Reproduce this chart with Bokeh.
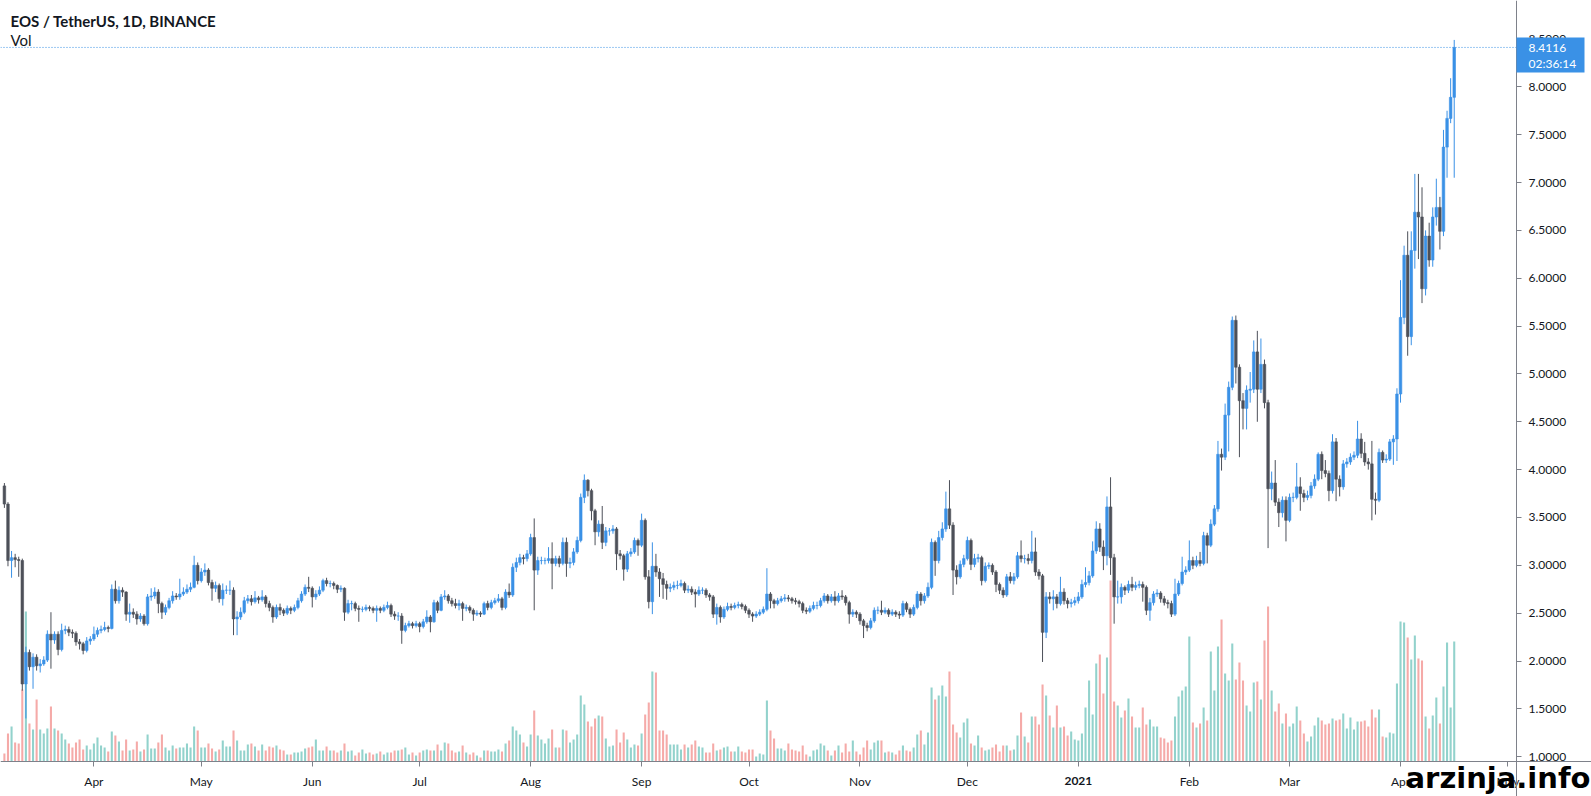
import pandas as pd
from bokeh.plotting import figure
from bokeh.models import (Range1d, FixedTicker, NumeralTickFormatter, CustomJSTickFormatter,
                          Label, BoxAnnotation, ColumnDataSource, LinearAxis, DatetimeAxis)
from bokeh.embed import file_html
from bokeh.resources import INLINE

# ---------------- data ----------------
start_date = "2020-03-07"
first_open = 3.83
last_price = 8.4116
countdown = "02:36:14"
title_text = "EOS / TetherUS, 1D, BINANCE"
volume_title = "Vol"
watermark = "arzinja.info"

close = [
    3.64, 3.05, 3.08, 3.06, 3.05, 1.76, 2.09, 1.94, 2.04, 1.95,
    1.97, 2.01, 2.28, 2.22, 2.28, 2.12, 2.32, 2.33, 2.30, 2.29,
    2.20, 2.18, 2.11, 2.21, 2.23, 2.28, 2.32, 2.33, 2.35, 2.34,
    2.75, 2.63, 2.74, 2.72, 2.49, 2.51, 2.49, 2.44, 2.47, 2.39,
    2.67, 2.68, 2.72, 2.60, 2.51, 2.56, 2.63, 2.68, 2.67, 2.70,
    2.72, 2.75, 2.77, 3.00, 2.84, 2.93, 2.95, 2.82, 2.76, 2.79,
    2.65, 2.74, 2.74, 2.74, 2.44, 2.46, 2.51, 2.63, 2.65, 2.62,
    2.66, 2.64, 2.67, 2.60, 2.56, 2.46, 2.56, 2.53, 2.50, 2.55,
    2.53, 2.56, 2.63, 2.70, 2.77, 2.76, 2.67, 2.70, 2.74, 2.84,
    2.81, 2.81, 2.79, 2.75, 2.76, 2.51, 2.60, 2.60, 2.55, 2.54,
    2.54, 2.56, 2.55, 2.53, 2.55, 2.53, 2.56, 2.58, 2.49, 2.47,
    2.47, 2.32, 2.37, 2.39, 2.37, 2.39, 2.36, 2.41, 2.46, 2.41,
    2.61, 2.53, 2.67, 2.68, 2.63, 2.60, 2.58, 2.60, 2.55, 2.56,
    2.53, 2.49, 2.50, 2.49, 2.60, 2.56, 2.61, 2.63, 2.65, 2.56,
    2.72, 2.69, 2.98, 3.03, 3.08, 3.07, 3.12, 3.29, 2.95, 3.05,
    3.05, 3.05, 3.07, 3.02, 3.07, 3.02, 3.24, 3.02, 3.03, 3.14,
    3.26, 3.71, 3.89, 3.78, 3.57, 3.35, 3.43, 3.24, 3.36, 3.36,
    3.38, 3.12, 3.10, 2.96, 3.12, 3.14, 3.26, 3.21, 3.47, 2.88,
    2.62, 2.99, 2.93, 2.86, 2.80, 2.76, 2.77, 2.79, 2.79, 2.81,
    2.74, 2.75, 2.72, 2.70, 2.74, 2.74, 2.69, 2.67, 2.49, 2.56,
    2.46, 2.54, 2.57, 2.56, 2.58, 2.59, 2.57, 2.53, 2.49, 2.47,
    2.49, 2.51, 2.54, 2.70, 2.63, 2.60, 2.63, 2.65, 2.66, 2.65,
    2.63, 2.62, 2.60, 2.53, 2.52, 2.55, 2.58, 2.58, 2.63, 2.68,
    2.63, 2.67, 2.63, 2.68, 2.67, 2.61, 2.49, 2.51, 2.49, 2.42,
    2.37, 2.35, 2.42, 2.53, 2.53, 2.51, 2.53, 2.49, 2.51, 2.49,
    2.48, 2.60, 2.54, 2.49, 2.56, 2.70, 2.63, 2.68, 2.77, 3.24,
    3.05, 3.29, 3.38, 3.59, 3.42, 2.95, 2.88, 3.01, 3.07, 3.26,
    3.01, 3.07, 3.08, 2.84, 2.99, 3.00, 2.93, 2.80, 2.74, 2.69,
    2.88, 2.84, 2.88, 3.10, 3.07, 3.07, 3.05, 3.14, 2.93, 2.89,
    2.30, 2.67, 2.65, 2.67, 2.60, 2.72, 2.63, 2.60, 2.61, 2.63,
    2.67, 2.80, 2.82, 2.89, 3.15, 3.38, 3.19, 3.10, 3.61, 3.08,
    2.67, 2.67, 2.77, 2.74, 2.80, 2.77, 2.79, 2.80, 2.77, 2.53,
    2.61, 2.70, 2.71, 2.65, 2.61, 2.60, 2.49, 2.70, 2.81, 2.93,
    2.95, 3.05, 3.00, 3.05, 3.02, 3.31, 3.21, 3.43, 3.59, 4.16,
    4.13, 4.57, 4.86, 5.56, 5.07, 4.72, 4.64, 4.83, 4.84, 5.23,
    4.84, 5.10, 4.70, 3.80, 3.86, 3.66, 3.55, 3.68, 3.47, 3.71,
    3.71, 3.82, 3.75, 3.71, 3.73, 3.83, 3.90, 4.16, 3.99, 3.96,
    3.78, 4.29, 3.90, 3.82, 4.06, 4.08, 4.13, 4.15, 4.32, 4.17,
    4.08, 4.06, 3.69, 3.68, 4.18, 4.10, 4.11, 4.29, 4.32, 4.79,
    5.59, 6.24, 5.39, 6.29, 6.69, 6.64, 5.89, 6.44, 6.19, 6.64,
    6.74, 6.49, 7.37, 7.67, 7.89, 8.4116,
]

high = [
    3.86, 3.66, 3.15, 3.12, 3.09, 3.07, 2.15, 2.12, 2.08, 2.07,
    2.02, 2.05, 2.32, 2.51, 2.31, 2.31, 2.39, 2.37, 2.36, 2.33,
    2.31, 2.23, 2.20, 2.25, 2.26, 2.36, 2.35, 2.37, 2.41, 2.37,
    2.80, 2.84, 2.78, 2.77, 2.73, 2.60, 2.55, 2.52, 2.50, 2.49,
    2.70, 2.76, 2.77, 2.75, 2.62, 2.59, 2.66, 2.73, 2.71, 2.86,
    2.77, 2.80, 2.82, 3.10, 3.03, 2.97, 3.02, 2.97, 2.85, 2.83,
    2.81, 2.81, 2.79, 2.84, 2.77, 2.52, 2.56, 2.67, 2.69, 2.69,
    2.73, 2.68, 2.74, 2.69, 2.63, 2.58, 2.59, 2.60, 2.55, 2.58,
    2.57, 2.59, 2.66, 2.73, 2.80, 2.88, 2.78, 2.74, 2.78, 2.86,
    2.87, 2.84, 2.83, 2.80, 2.79, 2.77, 2.64, 2.63, 2.62, 2.58,
    2.57, 2.59, 2.58, 2.57, 2.58, 2.57, 2.59, 2.62, 2.60, 2.52,
    2.51, 2.50, 2.40, 2.42, 2.41, 2.42, 2.41, 2.44, 2.53, 2.48,
    2.64, 2.63, 2.70, 2.74, 2.70, 2.66, 2.65, 2.64, 2.62, 2.59,
    2.58, 2.55, 2.53, 2.52, 2.62, 2.63, 2.64, 2.66, 2.70, 2.67,
    2.75, 2.81, 3.02, 3.08, 3.12, 3.11, 3.16, 3.33, 3.49, 3.09,
    3.09, 3.08, 3.19, 3.24, 3.10, 3.10, 3.29, 3.29, 3.08, 3.18,
    3.30, 3.75, 3.95, 3.90, 3.80, 3.59, 3.47, 3.62, 3.40, 3.39,
    3.42, 3.40, 3.16, 3.12, 3.15, 3.18, 3.29, 3.28, 3.54, 3.49,
    2.95, 3.24, 3.12, 2.97, 2.92, 2.84, 2.81, 2.83, 2.84, 2.85,
    2.83, 2.79, 2.78, 2.75, 2.78, 2.77, 2.76, 2.71, 2.69, 2.60,
    2.58, 2.57, 2.61, 2.60, 2.61, 2.62, 2.61, 2.59, 2.55, 2.51,
    2.52, 2.54, 2.57, 2.97, 2.72, 2.65, 2.66, 2.68, 2.70, 2.69,
    2.67, 2.66, 2.64, 2.62, 2.56, 2.58, 2.62, 2.62, 2.66, 2.71,
    2.70, 2.70, 2.73, 2.71, 2.74, 2.69, 2.63, 2.54, 2.53, 2.51,
    2.44, 2.40, 2.45, 2.56, 2.57, 2.63, 2.56, 2.55, 2.54, 2.53,
    2.52, 2.63, 2.62, 2.56, 2.59, 2.73, 2.72, 2.71, 2.82, 3.28,
    3.26, 3.36, 3.45, 3.77, 3.89, 3.45, 3.00, 3.05, 3.11, 3.30,
    3.28, 3.12, 3.12, 3.10, 3.03, 3.03, 3.02, 2.95, 2.82, 2.77,
    2.91, 2.93, 2.92, 3.14, 3.26, 3.11, 3.12, 3.36, 3.29, 2.96,
    2.91, 2.72, 2.72, 2.74, 2.70, 2.88, 2.76, 2.66, 2.65, 2.67,
    2.72, 2.85, 2.98, 2.94, 3.25, 3.46, 3.44, 3.26, 3.72, 3.92,
    3.12, 2.84, 2.81, 2.79, 2.84, 2.88, 2.83, 2.84, 2.83, 2.79,
    2.66, 2.73, 2.75, 2.73, 2.68, 2.64, 2.63, 2.86, 2.84, 3.09,
    2.99, 3.26, 3.09, 3.10, 3.14, 3.35, 3.34, 3.48, 3.63, 4.30,
    4.22, 4.69, 4.92, 5.60, 5.61, 5.10, 4.80, 4.88, 5.02, 5.35,
    5.45, 5.37, 5.15, 4.73, 3.98, 4.10, 3.70, 3.72, 3.72, 3.75,
    3.76, 4.07, 3.92, 3.79, 3.78, 3.87, 3.95, 4.18, 4.19, 4.10,
    3.99, 4.37, 4.33, 3.94, 4.10, 4.12, 4.17, 4.19, 4.51, 4.38,
    4.29, 4.12, 4.30, 3.76, 4.22, 4.20, 4.16, 4.32, 4.36, 4.85,
    5.98, 6.34, 6.49, 6.49, 7.09, 7.09, 6.95, 6.50, 6.58, 6.74,
    7.04, 6.85, 7.55, 7.75, 8.09, 8.49,
]

low = [
    3.60, 2.99, 2.87, 2.98, 2.88, 1.69, 1.40, 1.90, 1.71, 1.90,
    1.88, 1.95, 1.99, 1.92, 2.18, 2.06, 2.10, 2.28, 2.26, 2.24,
    2.16, 2.12, 2.07, 2.09, 2.17, 2.21, 2.25, 2.29, 2.31, 2.30,
    2.33, 2.60, 2.60, 2.67, 2.42, 2.40, 2.45, 2.38, 2.41, 2.37,
    2.37, 2.63, 2.65, 2.50, 2.44, 2.48, 2.54, 2.60, 2.64, 2.64,
    2.68, 2.70, 2.72, 2.76, 2.80, 2.82, 2.89, 2.79, 2.63, 2.72,
    2.61, 2.58, 2.70, 2.69, 2.27, 2.27, 2.43, 2.49, 2.60, 2.58,
    2.60, 2.60, 2.62, 2.56, 2.52, 2.40, 2.44, 2.48, 2.47, 2.48,
    2.49, 2.51, 2.54, 2.61, 2.68, 2.72, 2.56, 2.64, 2.68, 2.72,
    2.78, 2.77, 2.75, 2.71, 2.72, 2.42, 2.49, 2.53, 2.52, 2.41,
    2.51, 2.52, 2.52, 2.50, 2.41, 2.50, 2.51, 2.54, 2.46, 2.43,
    2.42, 2.18, 2.30, 2.35, 2.34, 2.35, 2.30, 2.34, 2.39, 2.30,
    2.40, 2.50, 2.52, 2.64, 2.60, 2.57, 2.55, 2.53, 2.42, 2.52,
    2.50, 2.42, 2.47, 2.46, 2.48, 2.53, 2.54, 2.59, 2.61, 2.53,
    2.54, 2.66, 2.67, 2.93, 3.00, 3.01, 3.04, 3.10, 2.53, 2.90,
    3.01, 3.01, 3.02, 2.75, 2.99, 2.98, 3.00, 2.88, 2.97, 3.00,
    3.12, 3.24, 3.65, 3.72, 3.47, 3.21, 3.30, 3.17, 3.20, 3.31,
    3.33, 2.95, 3.06, 2.84, 2.93, 3.09, 3.12, 3.10, 3.19, 2.85,
    2.55, 2.49, 2.88, 2.67, 2.65, 2.64, 2.72, 2.74, 2.75, 2.77,
    2.71, 2.71, 2.69, 2.56, 2.68, 2.70, 2.66, 2.63, 2.45, 2.38,
    2.40, 2.44, 2.52, 2.53, 2.54, 2.55, 2.54, 2.50, 2.45, 2.41,
    2.45, 2.47, 2.49, 2.52, 2.55, 2.55, 2.58, 2.61, 2.62, 2.62,
    2.60, 2.59, 2.56, 2.50, 2.49, 2.50, 2.53, 2.54, 2.56, 2.61,
    2.60, 2.61, 2.58, 2.61, 2.64, 2.58, 2.39, 2.46, 2.45, 2.38,
    2.24, 2.31, 2.33, 2.40, 2.49, 2.48, 2.49, 2.46, 2.47, 2.46,
    2.44, 2.46, 2.51, 2.45, 2.47, 2.54, 2.58, 2.60, 2.66, 2.75,
    2.89, 3.02, 3.26, 3.35, 3.38, 2.69, 2.80, 2.86, 2.98, 3.05,
    2.95, 2.98, 3.03, 2.79, 2.82, 2.96, 2.90, 2.72, 2.70, 2.66,
    2.67, 2.81, 2.80, 2.86, 3.03, 3.02, 3.01, 3.02, 2.89, 2.85,
    1.99, 2.24, 2.60, 2.53, 2.55, 2.58, 2.59, 2.55, 2.56, 2.58,
    2.60, 2.65, 2.77, 2.79, 2.87, 3.12, 3.14, 2.95, 3.00, 2.90,
    2.39, 2.60, 2.60, 2.69, 2.71, 2.73, 2.74, 2.76, 2.62, 2.48,
    2.42, 2.58, 2.67, 2.61, 2.58, 2.55, 2.46, 2.47, 2.68, 2.79,
    2.90, 2.93, 2.96, 2.98, 2.99, 3.00, 3.02, 3.19, 3.41, 3.56,
    3.99, 4.10, 4.19, 4.83, 4.90, 4.13, 4.42, 4.42, 4.70, 4.80,
    4.50, 4.80, 4.64, 3.18, 3.68, 3.62, 3.40, 3.50, 3.25, 3.45,
    3.66, 3.69, 3.57, 3.66, 3.68, 3.70, 3.80, 3.88, 3.90, 3.92,
    3.67, 3.75, 3.67, 3.72, 3.79, 4.02, 4.05, 4.10, 4.12, 4.12,
    4.04, 4.00, 3.47, 3.53, 3.66, 4.07, 4.07, 4.09, 4.05, 4.09,
    4.70, 5.52, 5.19, 5.30, 6.10, 6.20, 5.74, 5.82, 6.12, 6.12,
    6.55, 6.30, 6.44, 7.05, 7.62, 7.05,
]

volume = [
    8, 28, 35, 19, 18, 72, 150, 38, 32, 62, 32, 28, 33, 55, 33, 31, 28, 22, 18, 14,
    19, 22, 12, 16, 12, 18, 24, 16, 14, 10, 30, 26, 20, 11, 22, 11, 12, 20, 10, 12,
    27, 13, 13, 19, 27, 14, 11, 16, 13, 14, 14, 18, 14, 35, 31, 14,
    14, 18, 13, 10, 12, 21, 15, 15, 31, 21, 11, 11, 17, 18, 15, 11, 17, 11, 15, 14,
    16, 12, 11, 7, 7, 9, 9, 10, 13, 14, 15, 22, 11, 11, 15, 11, 11, 9, 11, 18,
    10, 11, 6, 9, 12, 8, 9, 7, 8, 10, 7, 9, 9, 11, 11, 12,
    14, 7, 9, 6, 9, 11, 12, 11, 11, 17, 11, 19, 18, 11, 9, 10, 16, 9, 7, 9,
    6, 4, 11, 11, 10, 10, 12, 10, 18, 21, 35, 31, 27, 19, 15, 27, 51, 26, 22, 18,
    23, 32, 14, 14, 32, 31, 19, 22, 27, 66, 57, 40, 35, 43, 46,
    45, 23, 15, 16, 32, 19, 29, 22, 14, 17, 16, 28, 47, 59, 90, 89, 31, 31, 27, 17,
    17, 17, 12, 17, 14, 17, 21, 15, 14, 9, 9, 18, 11, 12, 14, 15, 10, 10, 15, 10,
    9, 12, 12, 5, 8, 7, 61, 31, 23, 13, 13, 11, 18, 12, 11, 10,
    16, 7, 5, 11, 12, 18, 16, 11, 6, 11, 16, 9, 18, 10, 21, 10, 7, 14, 21, 12,
    19, 21, 21, 9, 10, 9, 7, 11, 16, 11, 10, 14, 27, 31, 17, 29, 74, 62, 66, 76,
    65, 90, 37, 29, 24, 39, 43, 18, 16, 26, 14, 11, 12, 14, 17, 10,
    16, 16, 11, 12, 26, 49, 25, 19, 45, 45, 37, 77, 66, 46, 34, 56, 34, 35, 26, 30,
    22, 21, 28, 54, 81, 47, 98, 107, 68, 104, 181, 60, 56, 44, 51, 63, 45, 34, 34, 54,
    37, 42, 35, 35, 24, 23, 19,
    21, 45, 65, 71, 75, 125, 39, 34, 38, 54, 41, 110, 71, 115, 142, 88, 81, 118, 82, 99,
    81, 56, 50, 79, 80, 62, 121, 155, 71, 50, 58, 38, 48, 35, 38, 55, 41, 28, 20, 25,
    36, 44, 41, 37, 38,
    43, 41, 42, 48, 33, 44, 32, 40, 40, 41, 35, 52, 44, 52, 25, 24, 29, 28, 78, 140,
    139, 124, 102, 126, 103, 101, 45, 33, 46, 64, 38, 75, 119, 54, 120,
]

month_ticks = ["2020-04-01", "2020-05-01", "2020-06-01", "2020-07-01", "2020-08-01",
               "2020-09-01", "2020-10-01", "2020-11-01", "2020-12-01", "2021-01-01",
               "2021-02-01", "2021-03-01", "2021-04-01", "2021-05-01"]
month_labels = ["Apr", "May", "Jun", "Jul", "Aug", "Sep", "Oct", "Nov", "Dec", "2021",
                "Feb", "Mar", "Apr", "May"]
year_label = "2021"
price_ticks = [1.0, 1.5, 2.0, 2.5, 3.0, 3.5, 4.0, 4.5, 5.0, 5.5, 6.0, 6.5, 7.0, 7.5, 8.0, 8.5]

# ---------------- styling / layout ----------------
UP = "#3A91E6"
DOWN = "#4D5059"
VOL_UP = "#92D2CC"
VOL_DOWN = "#F5AAA8"
AXIS = "#7E818A"
TXT = "#131722"
DAY = 86400000.0

W, H = 1591, 796          # the frame covers the whole canvas
AXIS_X, AXIS_Y = 1516, 761  # pixel position of the price scale / time scale
KX, KY = 3.5798, 95.7     # px per day, px per price unit
TOP_PRICE = 8.902

dates = pd.date_range(start_date, periods=len(close), freq="D")
t0 = dates[0].value / 1e6
X0 = t0 - 1.09 * DAY
X1 = X0 + W / KX * DAY
Y1 = TOP_PRICE
Y0 = Y1 - H / KY


def x_at(px):   # canvas x (px) -> data x
    return X0 + px / KX * DAY


def y_at(py):   # canvas y (px) -> price
    return Y1 - py / KY


opens = [first_open] + close[:-1]
highs = [max(h, o, c) for h, o, c in zip(high, opens, close)]
lows = [min(l, o, c) for l, o, c in zip(low, opens, close)]
is_up = [c >= o for o, c in zip(opens, close)]

src = ColumnDataSource(dict(
    date=dates,
    open=opens, close=close, high=highs, low=lows,
    top=[max(o, c) for o, c in zip(opens, close)],
    bottom=[min(o, c) for o, c in zip(opens, close)],
    color=[UP if u else DOWN for u in is_up],
    vcolor=[VOL_UP if u else VOL_DOWN for u in is_up],
    vol=volume,
))

p = figure(width=W, height=H, x_axis_type="datetime",
           x_axis_location=None, y_axis_location=None,
           x_range=Range1d(X0, X1), y_range=Range1d(Y0, Y1),
           toolbar_location=None, output_backend="svg", title=None,
           min_border_left=0, min_border_top=0, min_border_right=0, min_border_bottom=0)
vpx = 181.0 / max(volume)      # px per volume unit (tallest bar is 181 px)
p.extra_y_ranges = {"vol": Range1d(-(H - AXIS_Y) / vpx, AXIS_Y / vpx)}
p.xgrid.visible = False
p.ygrid.visible = False
p.outline_line_color = None
p.background_fill_color = "white"
p.border_fill_color = "white"

p.vbar(x="date", width=0.58 * DAY, top="vol", bottom=0, y_range_name="vol",
       fill_color="vcolor", line_color=None, source=src)
p.segment(x0="date", y0="low", x1="date", y1="high", line_color="color",
          line_width=1, source=src)
p.vbar(x="date", width=0.72 * DAY, top="top", bottom="bottom", fill_color="color",
       line_color="color", line_width=0.6, source=src)

# dotted last-price line up to the price scale
p.segment(x0=[X0], y0=[last_price], x1=[x_at(AXIS_X)], y1=[last_price],
          line_color=UP, line_dash="1 2", line_width=1)

# right price axis (fixed at the scale position)
yax = LinearAxis(fixed_location=x_at(AXIS_X))
yax.ticker = FixedTicker(ticks=price_ticks)
yax.formatter = NumeralTickFormatter(format="0.0000")
yax.major_label_text_font = "Lato"
yax.major_label_text_font_size = "12px"
yax.major_label_text_color = TXT
yax.major_tick_out = 5
yax.major_tick_in = 0
yax.minor_tick_out = 0
yax.minor_tick_in = 0
yax.major_label_standoff = 7
yax.axis_line_color = AXIS
yax.major_tick_line_color = AXIS
p.add_layout(yax, "right")

# bottom time axis (fixed at the scale position)
tick_ms = [float(pd.Timestamp(t).value / 1e6) for t in month_ticks]
axis_text = ["" if l == year_label else l for l in month_labels]
xax = DatetimeAxis(fixed_location=y_at(AXIS_Y))
xax.ticker = FixedTicker(ticks=tick_ms)
xax.formatter = CustomJSTickFormatter(args=dict(tvals=tick_ms, tlabels=axis_text), code="""
    let best = 0, bd = Infinity;
    for (let i = 0; i < tvals.length; i++) {
        const d = Math.abs(tvals[i] - tick);
        if (d < bd) { bd = d; best = i; }
    }
    return tlabels[best];
""")
xax.major_label_text_font = "Lato"
xax.major_label_text_font_size = "12px"
xax.major_label_text_color = TXT
xax.major_tick_out = 5
xax.major_tick_in = 0
xax.minor_tick_out = 0
xax.minor_tick_in = 0
xax.major_label_standoff = 7
xax.axis_line_color = AXIS
xax.major_tick_line_color = AXIS
p.add_layout(xax, "below")

# bold year label on the time axis
p.add_layout(Label(x=tick_ms[month_labels.index(year_label)], y=y_at(780), text=year_label,
                   text_align="center", text_baseline="middle", text_font="Lato",
                   text_font_style="bold", text_font_size="12px", text_color=TXT))

# legend texts (top-left)
p.add_layout(Label(x=x_at(10), y=y_at(20), text=title_text, text_align="left",
                   text_baseline="middle", text_font="Lato", text_font_style="bold",
                   text_font_size="15px", text_color=TXT))
p.add_layout(Label(x=x_at(10), y=y_at(39), text=volume_title, text_align="left",
                   text_baseline="middle", text_font="Lato", text_font_size="15px",
                   text_color=TXT))

# last-price badge on the price scale
p.add_layout(BoxAnnotation(left=x_at(AXIS_X), right=x_at(1584), top=y_at(37), bottom=y_at(72),
                           fill_color=UP, fill_alpha=1.0, line_color=None))
p.add_layout(Label(x=x_at(1528), y=y_at(47), text=f"{last_price:.4f}", text_align="left",
                   text_baseline="middle", text_font="Lato", text_font_size="12px",
                   text_color="white"))
p.add_layout(Label(x=x_at(1528), y=y_at(63), text=countdown, text_align="left",
                   text_baseline="middle", text_font="Lato", text_font_size="12px",
                   text_color="white"))

# watermark
p.add_layout(Label(x=x_at(1590), y=y_at(777), text=watermark, text_align="right",
                   text_baseline="middle", text_font="DejaVu Sans",
                   text_font_style="bold", text_font_size="29px", text_color="black"))

open("out.html", "w").write(file_html(p, INLINE, "EOS / TetherUS"))
